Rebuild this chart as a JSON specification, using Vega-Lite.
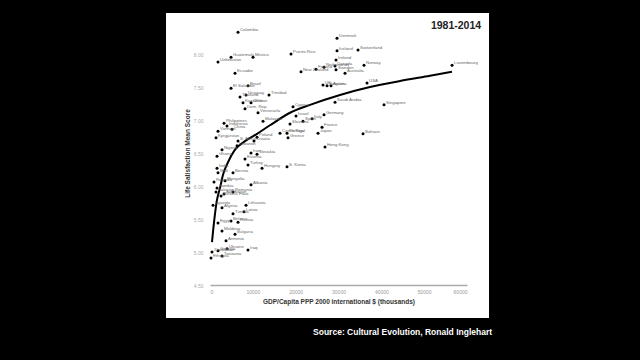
{
  "$schema": "https://vega.github.io/schema/vega-lite/v6.json",
  "width": 257,
  "height": 264,
  "autosize": "none",
  "padding": {"left": 210, "top": 21, "right": 173, "bottom": 75},
  "background": "black",
  "config": {
    "view": {"stroke": null},
    "font": "Liberation Sans",
    "axisX": {"format": "d", "ticks": false, "grid": false, "domainColor": "#aaaaaa", "domainWidth": 1.5, "labelColor": "#999999", "labelFontSize": 5, "labelPadding": 4, "titleFontSize": 6.5, "titleFontWeight": "bold", "titleColor": "#333333", "titlePadding": 4},
    "axisY": {"format": ".2f", "domain": false, "ticks": false, "grid": false, "labelColor": "#aaaaaa", "labelFontSize": 5, "labelPadding": 7, "titleFontSize": 6.5, "titleFontWeight": "bold", "titleColor": "#333333", "titlePadding": 3}
  },
  "datasets": {
    "countries": [
      {"country": "Colombia", "gdp": 6538, "ls": 8.33},
      {"country": "Puerto Rico", "gdp": 18914, "ls": 8.0},
      {"country": "Guatemala", "gdp": 4904, "ls": 7.95},
      {"country": "Mexico", "gdp": 10041, "ls": 7.95},
      {"country": "Uzbekistan", "gdp": 1868, "ls": 7.88},
      {"country": "Ecuador", "gdp": 5838, "ls": 7.71},
      {"country": "El Salvador", "gdp": 4904, "ls": 7.48},
      {"country": "Brazil", "gdp": 8873, "ls": 7.52},
      {"country": "Uruguay", "gdp": 8406, "ls": 7.38},
      {"country": "Thailand", "gdp": 7005, "ls": 7.35},
      {"country": "Trinidad", "gdp": 13777, "ls": 7.38},
      {"country": "Kazakhstan", "gdp": 7706, "ls": 7.26},
      {"country": "Chile", "gdp": 9574, "ls": 7.26},
      {"country": "Dom. Rep.", "gdp": 8173, "ls": 7.17},
      {"country": "Venezuela", "gdp": 11208, "ls": 7.11},
      {"country": "Philippines", "gdp": 3269, "ls": 6.95},
      {"country": "Malaysia", "gdp": 12376, "ls": 6.98},
      {"country": "Indonesia", "gdp": 3970, "ls": 6.91},
      {"country": "China", "gdp": 5137, "ls": 6.86},
      {"country": "Vietnam", "gdp": 1868, "ls": 6.83},
      {"country": "Kyrgyzstan", "gdp": 1401, "ls": 6.73},
      {"country": "S. Africa", "gdp": 6538, "ls": 6.68},
      {"country": "Lebanon", "gdp": 6305, "ls": 6.61},
      {"country": "Poland", "gdp": 10975, "ls": 6.74},
      {"country": "Croatia", "gdp": 10274, "ls": 6.68},
      {"country": "Czech Rep.", "gdp": 16345, "ls": 6.8},
      {"country": "Slovenia", "gdp": 18680, "ls": 6.94},
      {"country": "Nigeria", "gdp": 2802, "ls": 6.55},
      {"country": "Ghana", "gdp": 1635, "ls": 6.45},
      {"country": "Iran", "gdp": 9574, "ls": 6.5},
      {"country": "Slovakia", "gdp": 10975, "ls": 6.48},
      {"country": "Estonia", "gdp": 8173, "ls": 6.41},
      {"country": "India", "gdp": 1635, "ls": 6.27},
      {"country": "Turkey", "gdp": 8873, "ls": 6.32},
      {"country": "Hungary", "gdp": 12142, "ls": 6.27},
      {"country": "S. Korea", "gdp": 17980, "ls": 6.29},
      {"country": "Mali", "gdp": 1868, "ls": 6.2},
      {"country": "Bosnia", "gdp": 5371, "ls": 6.2},
      {"country": "Rwanda", "gdp": 934, "ls": 6.06},
      {"country": "Mongolia", "gdp": 3503, "ls": 6.08},
      {"country": "Albania", "gdp": 9574, "ls": 6.02},
      {"country": "Zambia", "gdp": 1635, "ls": 5.97},
      {"country": "Pakistan", "gdp": 1401, "ls": 5.91},
      {"country": "Romania", "gdp": 5371, "ls": 5.91},
      {"country": "Azerbaijan", "gdp": 3269, "ls": 5.88},
      {"country": "Burkina Faso", "gdp": 2569, "ls": 5.85},
      {"country": "Uganda", "gdp": 701, "ls": 5.71},
      {"country": "Algeria", "gdp": 2802, "ls": 5.67},
      {"country": "Lithuania", "gdp": 8406, "ls": 5.71},
      {"country": "Latvia", "gdp": 7939, "ls": 5.61},
      {"country": "Tunisia", "gdp": 5371, "ls": 5.58},
      {"country": "Russia", "gdp": 6538, "ls": 5.45},
      {"country": "Belarus", "gdp": 4904, "ls": 5.47},
      {"country": "Egypt", "gdp": 1868, "ls": 5.44},
      {"country": "Moldova", "gdp": 2802, "ls": 5.32},
      {"country": "Bulgaria", "gdp": 5838, "ls": 5.27},
      {"country": "Armenia", "gdp": 3736, "ls": 5.17},
      {"country": "Ukraine", "gdp": 3970, "ls": 5.05},
      {"country": "Zimbabwe", "gdp": 467, "ls": 5.0},
      {"country": "Georgia", "gdp": 1868, "ls": 5.02},
      {"country": "Iraq", "gdp": 8873, "ls": 5.03},
      {"country": "Tanzania", "gdp": 2802, "ls": 4.94},
      {"country": "Ethiopia", "gdp": 234, "ls": 4.91},
      {"country": "Denmark", "gdp": 29655, "ls": 8.24},
      {"country": "Switzerland", "gdp": 34558, "ls": 8.06},
      {"country": "Iceland", "gdp": 29655, "ls": 8.05},
      {"country": "Ireland", "gdp": 29421, "ls": 7.91},
      {"country": "Netherlands", "gdp": 26619, "ls": 7.8},
      {"country": "Canada", "gdp": 29188, "ls": 7.82},
      {"country": "Norway", "gdp": 35959, "ls": 7.83},
      {"country": "Sweden", "gdp": 29421, "ls": 7.76},
      {"country": "Australia", "gdp": 31523, "ls": 7.71},
      {"country": "USA", "gdp": 36660, "ls": 7.56},
      {"country": "Luxembourg", "gdp": 56507, "ls": 7.83},
      {"country": "Austria", "gdp": 28254, "ls": 7.52},
      {"country": "Belgium", "gdp": 27320, "ls": 7.52},
      {"country": "UK", "gdp": 26386, "ls": 7.53},
      {"country": "New Zealand", "gdp": 21249, "ls": 7.73},
      {"country": "Finland", "gdp": 24751, "ls": 7.77},
      {"country": "Cyprus", "gdp": 19381, "ls": 7.2},
      {"country": "Saudi Arabia", "gdp": 29188, "ls": 7.27},
      {"country": "Singapore", "gdp": 40629, "ls": 7.23},
      {"country": "Israel", "gdp": 20081, "ls": 7.06},
      {"country": "Italy", "gdp": 23817, "ls": 7.02},
      {"country": "Germany", "gdp": 26619, "ls": 7.08},
      {"country": "Spain", "gdp": 21716, "ls": 6.98},
      {"country": "France", "gdp": 26152, "ls": 6.89},
      {"country": "Japan", "gdp": 25218, "ls": 6.8},
      {"country": "Portugal", "gdp": 17980, "ls": 6.8},
      {"country": "Greece", "gdp": 18213, "ls": 6.73},
      {"country": "Bahrain", "gdp": 35726, "ls": 6.79},
      {"country": "Hong Kong", "gdp": 26853, "ls": 6.59}
    ],
    "curve": [
      {"gdp": 467, "ls": 5.15},
      {"gdp": 934, "ls": 5.45},
      {"gdp": 1634, "ls": 5.79},
      {"gdp": 2335, "ls": 5.97},
      {"gdp": 3035, "ls": 6.17},
      {"gdp": 4203, "ls": 6.36},
      {"gdp": 5837, "ls": 6.55},
      {"gdp": 8172, "ls": 6.68},
      {"gdp": 10974, "ls": 6.79},
      {"gdp": 14009, "ls": 6.92},
      {"gdp": 18678, "ls": 7.11},
      {"gdp": 23348, "ls": 7.23},
      {"gdp": 30353, "ls": 7.38},
      {"gdp": 37357, "ls": 7.5},
      {"gdp": 44362, "ls": 7.59},
      {"gdp": 51366, "ls": 7.67},
      {"gdp": 56502, "ls": 7.73}
    ]
  },
  "layer": [
    {
      "data": {"values": [{}]},
      "mark": {"type": "rect", "fill": "white"},
      "encoding": {
        "x": {"datum": -10270, "type": "quantitative", "scale": {"domain": [0, 60000], "nice": false, "zero": false}, "title": "GDP/Capita PPP 2000 international $ (thousands)", "axis": {"zindex": 1, "values": [0, 10000, 20000, 30000, 40000, 50000, 60000]}},
        "x2": {"datum": 65140},
        "y": {"datum": 4.0, "type": "quantitative", "scale": {"domain": [4.5, 8.5], "nice": false, "zero": false}, "title": "Life Satisfaction Mean Score", "axis": {"zindex": 1, "values": [4.5, 5, 5.5, 6, 6.5, 7, 7.5, 8]}},
        "y2": {"datum": 8.62}
      }
    },
    {
      "data": {"name": "curve"},
      "mark": {"type": "line", "color": "black", "strokeWidth": 2, "interpolate": "monotone"},
      "encoding": {
        "x": {"field": "gdp", "type": "quantitative", "title": "GDP/Capita PPP 2000 international $ (thousands)", "axis": {"zindex": 1, "values": [0, 10000, 20000, 30000, 40000, 50000, 60000]}},
        "y": {"field": "ls", "type": "quantitative", "title": "Life Satisfaction Mean Score", "axis": {"zindex": 1, "values": [4.5, 5, 5.5, 6, 6.5, 7, 7.5, 8]}},
        "order": {"field": "gdp"}
      }
    },
    {
      "data": {"name": "countries"},
      "mark": {"type": "circle", "color": "black", "size": 9, "opacity": 1},
      "encoding": {
        "x": {"field": "gdp", "type": "quantitative", "title": "GDP/Capita PPP 2000 international $ (thousands)", "axis": {"zindex": 1, "values": [0, 10000, 20000, 30000, 40000, 50000, 60000]}},
        "y": {"field": "ls", "type": "quantitative", "title": "Life Satisfaction Mean Score", "axis": {"zindex": 1, "values": [4.5, 5, 5.5, 6, 6.5, 7, 7.5, 8]}}
      }
    },
    {
      "data": {"name": "countries"},
      "mark": {"type": "text", "fontSize": 4.3, "color": "#666666", "align": "left", "baseline": "middle", "dx": 2, "dy": -2},
      "encoding": {
        "x": {"field": "gdp", "type": "quantitative", "title": "GDP/Capita PPP 2000 international $ (thousands)", "axis": {"zindex": 1, "values": [0, 10000, 20000, 30000, 40000, 50000, 60000]}},
        "y": {"field": "ls", "type": "quantitative", "title": "Life Satisfaction Mean Score", "axis": {"zindex": 1, "values": [4.5, 5, 5.5, 6, 6.5, 7, 7.5, 8]}},
        "text": {"field": "country"}
      }
    },
    {
      "data": {"values": [{}]},
      "mark": {"type": "text", "text": "1981-2014", "fontSize": 10.5, "fontWeight": "bold", "color": "#222222", "align": "right", "baseline": "middle"},
      "encoding": {
        "x": {"datum": 63300, "type": "quantitative", "title": "GDP/Capita PPP 2000 international $ (thousands)", "axis": {"zindex": 1, "values": [0, 10000, 20000, 30000, 40000, 50000, 60000]}},
        "y": {"datum": 8.42, "type": "quantitative", "title": "Life Satisfaction Mean Score", "axis": {"zindex": 1, "values": [4.5, 5, 5.5, 6, 6.5, 7, 7.5, 8]}}
      }
    },
    {
      "data": {"values": [{}]},
      "mark": {"type": "text", "text": "Source: Cultural Evolution, Ronald Inglehart", "fontSize": 8.5, "fontWeight": "bold", "color": "white", "align": "right", "baseline": "middle"},
      "encoding": {
        "x": {"datum": 65847, "type": "quantitative", "title": "GDP/Capita PPP 2000 international $ (thousands)", "axis": {"zindex": 1, "values": [0, 10000, 20000, 30000, 40000, 50000, 60000]}},
        "y": {"datum": 3.79, "type": "quantitative", "title": "Life Satisfaction Mean Score", "axis": {"zindex": 1, "values": [4.5, 5, 5.5, 6, 6.5, 7, 7.5, 8]}}
      }
    }
  ]
}
